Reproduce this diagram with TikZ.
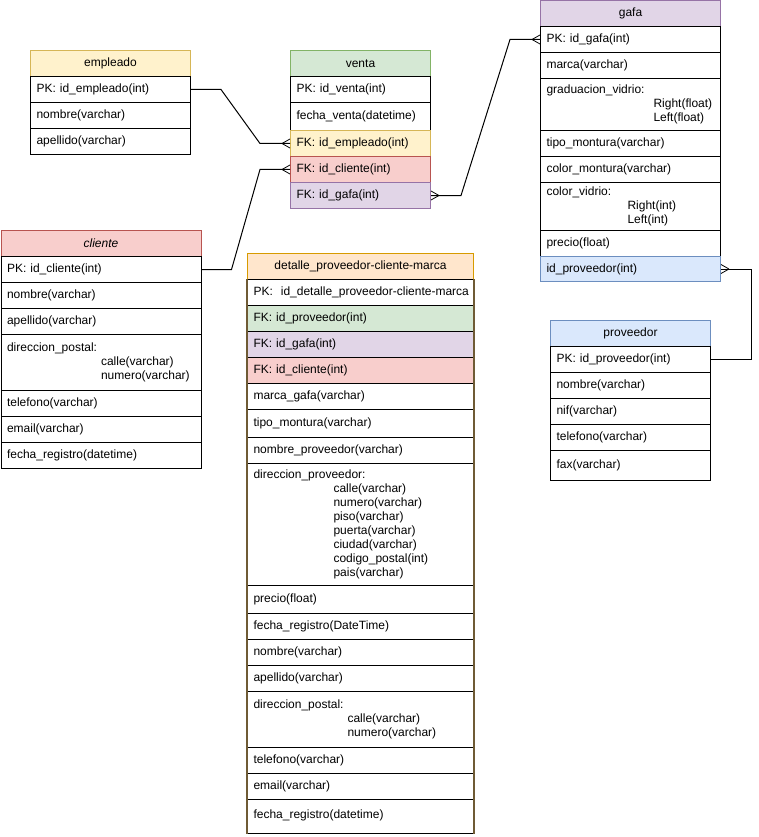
\documentclass[tikz,border=0pt]{standalone}
\usepackage{fontspec}
\setmainfont{Liberation Sans}
\usetikzlibrary{calc}
\definecolor{yelF}{HTML}{FFF2CC}\definecolor{yelS}{HTML}{D6B656}
\definecolor{grnF}{HTML}{D5E8D4}\definecolor{grnS}{HTML}{82B366}
\definecolor{redF}{HTML}{F8CECC}\definecolor{redS}{HTML}{B85450}
\definecolor{purF}{HTML}{E1D5E7}\definecolor{purS}{HTML}{9673A6}
\definecolor{bluF}{HTML}{DAE8FC}\definecolor{bluS}{HTML}{6C8EBF}
\definecolor{oraF}{HTML}{FFE6CC}\definecolor{oraS}{HTML}{D79B00}
\definecolor{brnS}{HTML}{6F5B35}
\tikzset{
 erow/.style={draw=black, line width=1pt, rectangle, anchor=north west, inner xsep=6pt, inner ysep=0pt, align=left, font=\fontsize{12}{14}\selectfont},
 ehead/.style={align=center},
 conn/.style={draw=black, line width=1pt},
 crowline/.style={draw=black, line width=0.8pt},
 yel/.style={fill=yelF, draw=yelS},
 grn/.style={fill=grnF, draw=grnS},
 red/.style={fill=redF, draw=redS},
 pur/.style={fill=purF, draw=purS},
 blu/.style={fill=bluF, draw=bluS},
 ora/.style={fill=oraF, draw=oraS},
 grnB/.style={fill=grnF},
 purB/.style={fill=purF},
 redB/.style={fill=redF},
 wrow/.style={fill=white},
}
% name, x, y, w, h, style, text
\newcommand{\tabrow}[7]{%
 \pgfmathsetmacro{\tw}{#4-12}%
 \node[erow,#6,minimum width=#4pt,minimum height=#5pt,text width=\tw pt] (#1) at (#2,#3) {#7};%
}
\newcommand{\crowW}[1]{\draw[crowline] ($(#1)+(-8,0)$) -- ($(#1)+(0,4.5)$) ($(#1)+(-8,0)$) -- ($(#1)+(0,-4.5)$);}
\newcommand{\crowE}[1]{\draw[crowline] ($(#1)+(8,0)$) -- ($(#1)+(0,4.5)$) ($(#1)+(8,0)$) -- ($(#1)+(0,-4.5)$);}
\newcommand{\us}{\textunderscore}
\begin{document}
\hyphenpenalty=10000\relax
\exhyphenpenalty=10000\relax
\begin{tikzpicture}[x=1pt,y=-1pt]
\fill[white] (0,0) rectangle (759,837);
\useasboundingbox (0,0) rectangle (759,837);

% empleado
\tabrow{empH}{30}{50}{160}{26}{yel,ehead}{empleado}
\tabrow{empPK}{30}{76}{160}{26}{wrow}{PK: id\us empleado(int)}
\tabrow{empNom}{30}{102}{160}{26}{wrow}{nombre(varchar)}
\tabrow{empApe}{30}{128}{160}{26}{wrow}{apellido(varchar)}

% venta
\tabrow{vH}{290}{50}{140}{26}{grn,ehead}{venta}
\tabrow{vPK}{290}{76}{140}{26}{wrow}{PK: id\us venta(int)}
\tabrow{vFecha}{290}{102}{140}{28}{wrow}{fecha\us venta(datetime)}
\tabrow{vFKemp}{290}{130}{140}{26}{yel}{FK: id\us empleado(int)}
\tabrow{vFKcli}{290}{156}{140}{26}{red}{FK: id\us cliente(int)}
\tabrow{vFKgafa}{290}{182}{140}{26}{pur}{FK: id\us gafa(int)}

% gafa
\tabrow{gH}{540}{0.5}{180}{25.5}{pur,ehead}{gafa}
\tabrow{gPK}{540}{26}{180}{26}{wrow}{PK: id\us gafa(int)}
\tabrow{gMarca}{540}{52}{180}{26}{wrow}{marca(varchar)}
\tabrow{gGrad}{540}{78}{180}{52}{wrow}{graduacion\us vidrio:\\\hspace*{107pt}Right(float)\\\hspace*{107pt}Left(float)}
\tabrow{gTipo}{540}{130}{180}{26}{wrow}{tipo\us montura(varchar)}
\tabrow{gColM}{540}{156}{180}{26}{wrow}{color\us montura(varchar)}
\tabrow{gColV}{540}{182}{180}{48}{wrow}{color\us vidrio:\\\hspace*{81pt}Right(int)\\\hspace*{81pt}Left(int)}
\tabrow{gPrecio}{540}{230}{180}{26}{wrow}{precio(float)}
\tabrow{gProv}{540}{256}{180}{25}{blu}{id\us proveedor(int)}

% cliente
\tabrow{cH}{0.5}{230}{200}{26}{red,ehead}{\textit{cliente}}
\tabrow{cPK}{0.5}{256}{200}{26}{wrow}{PK: id\us cliente(int)}
\tabrow{cNom}{0.5}{282}{200}{26}{wrow}{nombre(varchar)}
\tabrow{cApe}{0.5}{308}{200}{26}{wrow}{apellido(varchar)}
\tabrow{cDir}{0.5}{334}{200}{56}{wrow}{direccion\us postal:\\\hspace*{94pt}calle(varchar)\\\hspace*{94pt}numero(varchar)}
\tabrow{cTel}{0.5}{390}{200}{26}{wrow}{telefono(varchar)}
\tabrow{cEmail}{0.5}{416}{200}{26}{wrow}{email(varchar)}
\tabrow{cFecha}{0.5}{442}{200}{26}{wrow}{fecha\us registro(datetime)}

% proveedor
\tabrow{pH}{550}{320}{160}{26}{blu,ehead}{proveedor}
\tabrow{pPK}{550}{346}{160}{26}{wrow}{PK: id\us proveedor(int)}
\tabrow{pNom}{550}{372}{160}{26}{wrow}{nombre(varchar)}
\tabrow{pNif}{550}{398}{160}{26}{wrow}{nif(varchar)}
\tabrow{pTel}{550}{424}{160}{26}{wrow}{telefono(varchar)}
\tabrow{pFax}{550}{450}{160}{30}{wrow}{\raisebox{2pt}{fax(varchar)}}

% detalle
\tabrow{dH}{247}{253}{226}{26}{ora,ehead}{detalle\us proveedor-cliente-marca}
\tabrow{dPK}{247}{279}{226}{26}{wrow}{PK:~~id\us detalle\us proveedor-cliente-marca}
\tabrow{dFKprov}{247}{305}{226}{26}{grnB}{FK: id\us proveedor(int)}
\tabrow{dFKgafa}{247}{331}{226}{26}{purB}{FK: id\us gafa(int)}
\tabrow{dFKcli}{247}{357}{226}{26}{redB}{FK: id\us cliente(int)}
\tabrow{dMarca}{247}{383}{226}{26}{wrow}{marca\us gafa(varchar)}
\tabrow{dTipo}{247}{409}{226}{28}{wrow}{tipo\us montura(varchar)}
\tabrow{dNomProv}{247}{437}{226}{26}{wrow}{nombre\us proveedor(varchar)}
\tabrow{dDirProv}{247}{463}{226}{122}{wrow}{direccion\us proveedor:\\\hspace*{80pt}calle(varchar)\\\hspace*{80pt}numero(varchar)\\\hspace*{80pt}piso(varchar)\\\hspace*{80pt}puerta(varchar)\\\hspace*{80pt}ciudad(varchar)\\\hspace*{80pt}codigo\us postal(int)\\\hspace*{80pt}pais(varchar)}
\tabrow{dPrecio}{247}{585}{226}{28}{wrow}{precio(float)}
\tabrow{dFecha}{247}{613}{226}{26}{wrow}{fecha\us registro(DateTime)}
\tabrow{dNom}{247}{639}{226}{26}{wrow}{nombre(varchar)}
\tabrow{dApe}{247}{665}{226}{26}{wrow}{apellido(varchar)}
\tabrow{dDirPost}{247}{691}{226}{56}{wrow}{direccion\us postal:\\\hspace*{94pt}calle(varchar)\\\hspace*{94pt}numero(varchar)}
\tabrow{dTel}{247}{747}{226}{26}{wrow}{telefono(varchar)}
\tabrow{dEmail}{247}{773}{226}{26}{wrow}{email(varchar)}
\tabrow{dFechaReg}{247}{799}{226}{34}{wrow}{\raisebox{4pt}{fecha\us registro(datetime)}}
\draw[brnS, line width=1.6pt] (dPK.north west) -- (dFechaReg.south west);
\draw[brnS, line width=1.6pt] (dPK.north east) -- (dFechaReg.south east);

% connectors
\draw[conn] (empPK.east) -- ++(30,0) -- ($(vFKemp.west)+(-30,0)$) -- (vFKemp.west);
\crowW{vFKemp.west}
\draw[conn] (cPK.east) -- ++(30,0) -- ($(vFKcli.west)+(-30,0)$) -- (vFKcli.west);
\crowW{vFKcli.west}
\draw[conn] (vFKgafa.east) -- ++(30,0) -- ($(gPK.west)+(-30,0)$) -- (gPK.west);
\crowE{vFKgafa.east}
\crowW{gPK.west}
\draw[conn] (gProv.east) -- ++(30,0) |- (pPK.east);
\crowE{gProv.east}
\end{tikzpicture}
\end{document}
